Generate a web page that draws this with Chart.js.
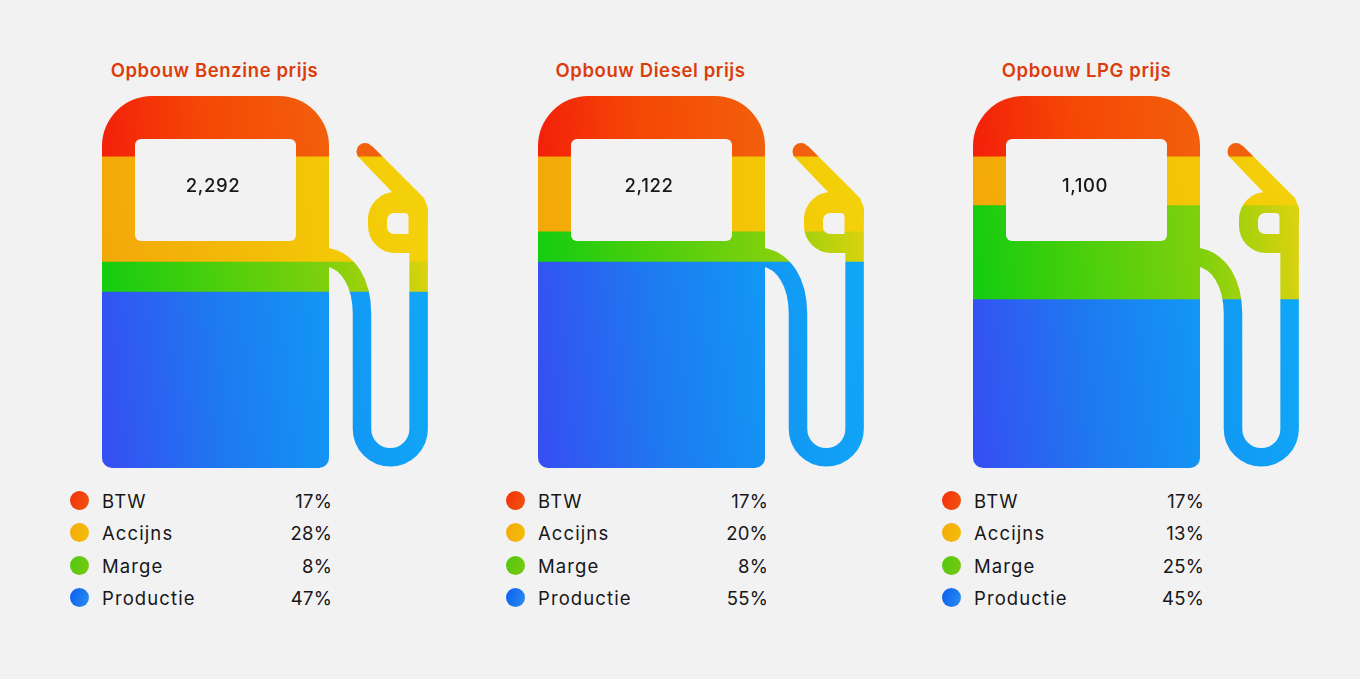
<!DOCTYPE html>
<html lang="nl">
<head>
<meta charset="utf-8">
<title>Opbouw brandstofprijs</title>
<script src="https://cdn.jsdelivr.net/npm/chart.js@4"></script>
<style>
  html, body { margin: 0; padding: 0; background: #f2f2f2; }
  body { width: 1360px; height: 679px; position: relative; overflow: hidden; font-family: Inter, sans-serif; color: #17171a; }
  .pump { position: absolute; left: 0; top: 0; width: 436px; height: 679px; }
  .pump .wrap { position: absolute; left: 102px; top: 96px; width: 326px; height: 372px; }
  .pump h2 { position: absolute; left: 0; top: 57.5px; width: 429px; margin: 0; text-align: center; font-size: 18.5px; line-height: 24px; font-weight: 600; letter-spacing: 0.6px; color: #dc3d0c; }
  .pump .total { position: absolute; left: 163px; top: 173px; width: 100px; text-align: center; font-size: 18.5px; line-height: 24px; font-weight: 500; letter-spacing: 0.6px; }
  .row { position: absolute; left: 70px; width: 262px; height: 24px; font-size: 18.5px; line-height: 24px; font-weight: 400; }
  .row i { position: absolute; left: 0; top: 2px; width: 19px; height: 19px; border-radius: 50%; }
  .row span { position: absolute; left: 32px; letter-spacing: 1.1px; }
  .row b { position: absolute; right: 0; font-weight: 400; letter-spacing: 0.2px; }
</style>
</head>
<body>
<script>
const categories = ["BTW", "Accijns", "Marge", "Productie"];
const fuels = ["Benzine", "Diesel", "LPG"];
const benzine = [17, 28, 8, 47];
const diesel = [17, 20, 8, 55];
const lpg = [17, 13, 25, 45];
const totals = ["2,292", "2,122", "1,100"];

const series = [benzine, diesel, lpg];
const pumpStep = 436;
const wrapLefts = [102, 102, 101];
const rowTops = [489, 521, 554, 586];

// colour stops per category, left to right across the pump
const stops = [
  [[0, "#f3200a"], [0.3, "#f54605"], [0.7, "#f2600c"], [1, "#f0620f"]],
  [[0, "#f3a80a"], [0.7, "#f3c806"], [1, "#f3d20a"]],
  [[0, "#14cc10"], [0.35, "#4ccf0c"], [0.7, "#80d00c"], [1, "#dcd20e"]],
  [[0, "#3550f2"], [0.35, "#1f78f0"], [0.7, "#1296f4"], [1, "#10a6f6"]]
];
const dotColors = [
  "linear-gradient(110deg,#f3300a,#f0560f)",
  "linear-gradient(110deg,#f3a90a,#f3bf0a)",
  "linear-gradient(110deg,#4ec810,#7cc90f)",
  "linear-gradient(110deg,#0a5cf0,#2a90f0)"
];

// --- Pump silhouette, drawn once and used as a mask over the bars ---
function buildMask(w, h, scale) {
  const c = document.createElement("canvas");
  c.width = w * scale;
  c.height = h * scale;
  const m = c.getContext("2d");
  m.scale(scale, scale);
  m.fillStyle = "#000";
  m.strokeStyle = "#000";

  // body
  m.beginPath();
  m.roundRect(0, 0, 227, 372, [50, 50, 10, 10]);
  m.fill();

  // hose
  m.lineWidth = 18.5;
  m.beginPath();
  m.moveTo(225, 161);
  m.bezierCurveTo(246, 165, 260, 186, 260, 218);
  m.lineTo(260, 333);
  m.arc(288.3, 333, 28.3, Math.PI, 0, true);
  m.lineTo(316.6, 120);
  m.stroke();

  // nozzle
  m.beginPath();
  m.arc(263, 55.5, 8.5, 0, Math.PI * 2);
  m.fill();
  m.beginPath();
  m.moveTo(270, 50);
  m.lineTo(322, 102);
  m.lineTo(326, 112);
  m.lineTo(326, 125);
  m.lineTo(290, 125);
  m.lineTo(290, 96);
  m.lineTo(255.5, 60);
  m.closePath();
  m.fill();
  m.beginPath();
  m.roundRect(266, 96, 50, 61, [27, 0, 0, 27]);
  m.fill();

  // holes
  m.globalCompositeOperation = "destination-out";
  m.beginPath();
  m.roundRect(33, 43, 161, 102, 6);
  m.fill();
  m.beginPath();
  m.roundRect(285, 117, 21.5, 21, [7, 4, 0, 7]);
  m.fill();
  return c;
}

const pumpMask = {
  id: "pumpMask",
  afterDatasetsDraw(chart) {
    const { ctx, width, height, currentDevicePixelRatio } = chart;
    if (!chart.$mask) chart.$mask = buildMask(width, height, currentDevicePixelRatio);
    ctx.save();
    ctx.globalCompositeOperation = "destination-in";
    ctx.drawImage(chart.$mask, 0, 0, width, height);
    ctx.restore();
  }
};

// gradient runs slightly diagonal around the middle of each band
function bandFill(values, i) {
  return ctx => {
    const { chartArea: area, scales } = ctx.chart;
    if (!area || !scales.y) return "#888";
    const below = values.slice(0, i).reduce((a, b) => a + b, 0);
    const mid = scales.y.getPixelForValue(below + values[i] / 2);
    const g = ctx.chart.ctx.createLinearGradient(area.left, mid + 15, area.right, mid - 15);
    stops[i].forEach(s => g.addColorStop(s[0], s[1]));
    return g;
  };
}

// --- Build one pump per fuel ---
fuels.forEach((fuel, f) => {
  const values = series[f];
  const pump = document.createElement("div");
  pump.className = "pump";
  pump.style.left = (f * pumpStep) + "px";

  const title = document.createElement("h2");
  title.textContent = `Opbouw ${fuel} prijs`;
  pump.appendChild(title);

  const wrap = document.createElement("div");
  wrap.className = "wrap";
  wrap.style.left = wrapLefts[f] + "px";
  const canvas = document.createElement("canvas");
  wrap.appendChild(canvas);
  pump.appendChild(wrap);

  const total = document.createElement("div");
  total.className = "total";
  total.textContent = totals[f];
  pump.appendChild(total);

  categories.forEach((cat, i) => {
    const row = document.createElement("div");
    row.className = "row";
    row.style.top = rowTops[i] + "px";
    row.innerHTML = `<i style="background:${dotColors[i]}"></i><span>${cat}</span><b>${values[i]}%</b>`;
    pump.appendChild(row);
  });
  document.body.appendChild(pump);

  new Chart(canvas, {
    type: "bar",
    data: {
      labels: [fuel],
      datasets: categories.map((cat, i) => ({
        label: cat,
        data: [values[i]],
        backgroundColor: bandFill(values, i),
        borderWidth: 0,
        barPercentage: 1,
        categoryPercentage: 1
      }))
    },
    options: {
      responsive: true,
      maintainAspectRatio: false,
      animation: false,
      layout: { padding: 0 },
      plugins: { legend: { display: false }, title: { display: false }, tooltip: { enabled: false } },
      scales: {
        x: { stacked: true, display: false },
        // the first band starts just above the pump's top edge in the source
        y: { stacked: true, display: false, reverse: true, min: 1, max: 100 }
      }
    },
    plugins: [pumpMask]
  });
});
</script>
</body>
</html>
